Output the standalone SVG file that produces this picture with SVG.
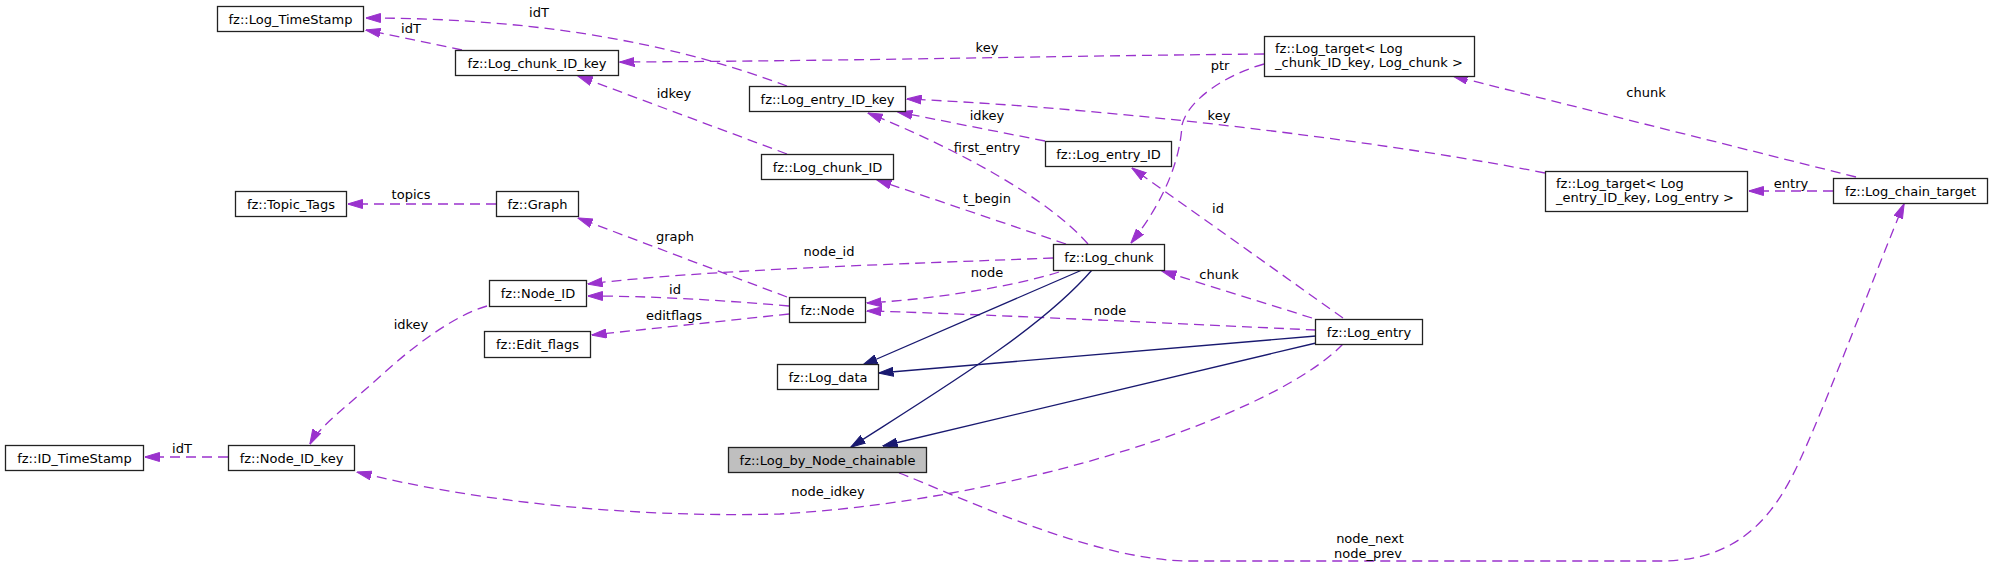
<svg xmlns="http://www.w3.org/2000/svg" width="1992" height="567" viewBox="0 0 1992 567">
<style>
.n rect{fill:#ffffff;stroke:#222222;stroke-width:1.3}
.n.g rect{fill:#bfbfbf}
text{font-family:"DejaVu Sans","Liberation Sans",sans-serif;font-size:13px;fill:#000}
.n text.c{text-anchor:middle}
.e path{fill:none;stroke:#9a32cd;stroke-width:1.3;stroke-dasharray:10,6;marker-end:url(#ap)}
.e path.i{stroke:#191970;stroke-dasharray:none;marker-end:url(#ai)}
.l text{text-anchor:middle}
</style>
<defs>
<marker id="ap" markerUnits="userSpaceOnUse" viewBox="0 0 15 10" markerWidth="15" markerHeight="10" refX="14.5" refY="5" orient="auto"><path d="M0,0.5 L15,5 L0,9.5 Z" fill="#9a32cd" stroke="#9a32cd" stroke-width="1"/></marker>
<marker id="ai" markerUnits="userSpaceOnUse" viewBox="0 0 15 10" markerWidth="15" markerHeight="10" refX="14.5" refY="5" orient="auto"><path d="M0,0.5 L15,5 L0,9.5 Z" fill="#191970" stroke="#191970" stroke-width="1"/></marker>
</defs>
<rect width="1992" height="567" fill="#ffffff"/>
<g id="connectors" class="e">
<path d="M462,50 L366,30"/>
<path d="M787,86 C690,50 560,18 366,18"/>
<path d="M1264,54 C1050,56 850,61 620,62"/>
<path d="M787,154 L578,76"/>
<path d="M1264,64 C1225,75 1188,100 1182,125 C1180,160 1165,200 1131,243"/>
<path d="M1545,173 C1420,148 1150,110 907,99"/>
<path d="M1045,141 L898,112"/>
<path d="M1088,244 C1050,200 960,150 868,113"/>
<path d="M1066,244 L877,180"/>
<path d="M1343,318 L1132,168"/>
<path d="M496,204 L348,204"/>
<path d="M787,297 L578,218"/>
<path d="M1053,258 C900,264 700,270 588,284"/>
<path d="M1059,272 C1000,290 920,300 867,303"/>
<path d="M789,306 C720,300 650,296 588,296"/>
<path d="M789,314 L592,335"/>
<path d="M1312,318 L1162,271"/>
<path d="M1316,330 C1100,320 950,313 867,311"/>
<path d="M1343,344 C1275,415 1020,500 780,514 C620,518 470,500 357,472"/>
<path d="M487,306 C455,315 415,345 385,372 C355,400 320,425 310,444"/>
<path d="M228,457 L145,457"/>
<path d="M1856,177 L1453,76"/>
<path d="M1833,191 L1749,191"/>
<path d="M899,473 C945,490 1090,561 1190,561 L1660,561 C1740,561 1775,515 1800,460 C1830,395 1880,260 1904,204"/>
<path class="i" d="M1082,270 L863,365"/>
<path class="i" d="M1092,270 C1040,330 940,390 851,447"/>
<path class="i" d="M1316,336 L879,373"/>
<path class="i" d="M1316,343 L883,446"/>
</g>
<g id="labels" class="l">
<text x="411" y="33">idT</text>
<text x="539" y="17">idT</text>
<text x="987" y="52">key</text>
<text x="674" y="98">idkey</text>
<text x="1220" y="70">ptr</text>
<text x="1219" y="120">key</text>
<text x="987" y="120">idkey</text>
<text x="987" y="152">first_entry</text>
<text x="987" y="203">t_begin</text>
<text x="1218" y="213">id</text>
<text x="411" y="199">topics</text>
<text x="675" y="241">graph</text>
<text x="829" y="256">node_id</text>
<text x="987" y="277">node</text>
<text x="675" y="294">id</text>
<text x="674" y="320">editflags</text>
<text x="1219" y="279">chunk</text>
<text x="1110" y="315">node</text>
<text x="828" y="496">node_idkey</text>
<text x="411" y="329">idkey</text>
<text x="182" y="453">idT</text>
<text x="1646" y="97">chunk</text>
<text x="1791" y="188">entry</text>
<text x="1370" y="543">node_next</text>
<text x="1368" y="558">node_prev</text>
</g>
<g id="Log_TimeStamp" class="n"><rect x="217.5" y="6.5" width="146" height="25"/><text class="c" x="290.5" y="23.5">fz::Log_TimeStamp</text></g>
<g id="Log_chunk_ID_key" class="n"><rect x="455.5" y="50.5" width="163" height="25"/><text class="c" x="537" y="67.5">fz::Log_chunk_ID_key</text></g>
<g id="Log_target_chunk" class="n"><rect x="1264.5" y="36.5" width="210" height="40"/><text x="1275" y="52.5">fz::Log_target&lt; Log</text><text x="1275" y="67">_chunk_ID_key, Log_chunk &gt;</text></g>
<g id="Log_entry_ID_key" class="n"><rect x="749.5" y="86.5" width="156" height="25"/><text class="c" x="827.5" y="103.5">fz::Log_entry_ID_key</text></g>
<g id="Log_entry_ID" class="n"><rect x="1045.5" y="141.5" width="126" height="25"/><text class="c" x="1108.5" y="158.5">fz::Log_entry_ID</text></g>
<g id="Log_chunk_ID" class="n"><rect x="761.5" y="154.5" width="132" height="25"/><text class="c" x="827.5" y="171.5">fz::Log_chunk_ID</text></g>
<g id="Topic_Tags" class="n"><rect x="235.5" y="191.5" width="111" height="25"/><text class="c" x="291" y="208.5">fz::Topic_Tags</text></g>
<g id="Graph" class="n"><rect x="496.5" y="191.5" width="82" height="25"/><text class="c" x="537.5" y="208.5">fz::Graph</text></g>
<g id="Log_target_entry" class="n"><rect x="1545.5" y="171.5" width="202" height="40"/><text x="1556" y="187.5">fz::Log_target&lt; Log</text><text x="1556" y="202">_entry_ID_key, Log_entry &gt;</text></g>
<g id="Log_chain_target" class="n"><rect x="1833.5" y="178.5" width="154" height="25"/><text class="c" x="1910.5" y="195.5">fz::Log_chain_target</text></g>
<g id="Log_chunk" class="n"><rect x="1053.5" y="244.5" width="111" height="26"/><text class="c" x="1109" y="262">fz::Log_chunk</text></g>
<g id="Node_ID" class="n"><rect x="489.5" y="280.5" width="97" height="26"/><text class="c" x="538" y="298">fz::Node_ID</text></g>
<g id="Node" class="n"><rect x="789.5" y="297.5" width="76" height="25"/><text class="c" x="827.5" y="314.5">fz::Node</text></g>
<g id="Edit_flags" class="n"><rect x="484.5" y="331.5" width="106" height="26"/><text class="c" x="537.5" y="349">fz::Edit_flags</text></g>
<g id="Log_entry" class="n"><rect x="1315.5" y="319.5" width="107" height="25"/><text class="c" x="1369" y="336.5">fz::Log_entry</text></g>
<g id="Log_data" class="n"><rect x="777.5" y="364.5" width="101" height="25"/><text class="c" x="828" y="381.5">fz::Log_data</text></g>
<g id="ID_TimeStamp" class="n"><rect x="5.5" y="445.5" width="138" height="25"/><text class="c" x="74.5" y="462.5">fz::ID_TimeStamp</text></g>
<g id="Node_ID_key" class="n"><rect x="228.5" y="445.5" width="126" height="25"/><text class="c" x="291.5" y="462.5">fz::Node_ID_key</text></g>
<g id="Log_by_Node_chainable" class="n g"><rect x="728.5" y="447.5" width="198" height="25"/><text class="c" x="827.5" y="464.5">fz::Log_by_Node_chainable</text></g>
</svg>
